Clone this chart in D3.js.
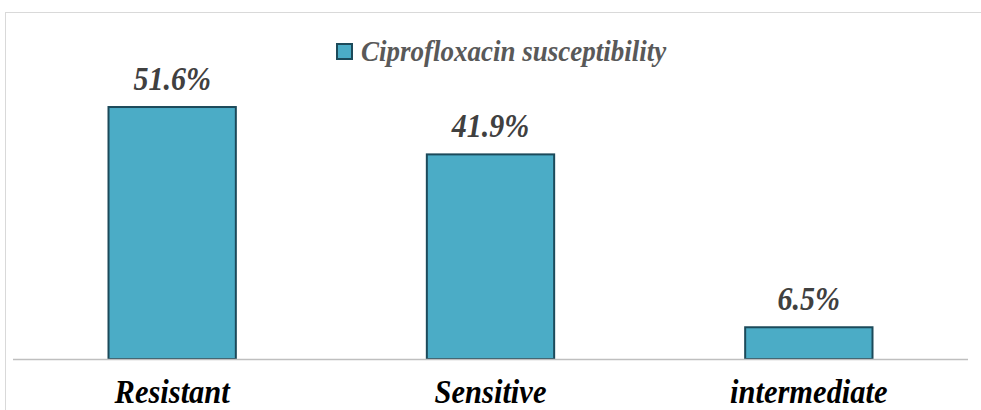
<!DOCTYPE html>
<html>
<head>
<meta charset="utf-8">
<script src="https://cdn.jsdelivr.net/npm/d3@7"></script>
<style>
  body { margin: 0; background: #fff; }
  text { font-family: "Liberation Serif", "Times New Roman", Times, serif; font-weight: bold; font-style: italic; }
</style>
</head>
<body>
<div id="chart"></div>
<script>
(function () {
    // data
    var categories = ["Resistant", "Sensitive", "intermediate"];
    var values = [51.6, 41.9, 6.5];
    var seriesName = "Ciprofloxacin susceptibility";

    var width = 981, height = 410;

    const svg = d3.select('#chart')
        .append('svg')
        .attr('width', width)
        .attr('height', height);

    // chart area frame (runs off right and bottom)
    svg.append("rect")
        .attr("x", 5.5).attr("y", 12.5)
        .attr("width", 1000).attr("height", 500)
        .attr("fill", "none")
        .attr("stroke", "#d9d9d9");

    const x = d3.scaleBand()
        .domain(categories)
        .range([13, 968])
        .paddingInner(0.6)
        .paddingOuter(0.3);

    const y = d3.scaleLinear()
        .domain([0, 60])
        .range([359, 66]);

    svg.append("g")
        .selectAll("rect")
        .data(values)
        .join("rect")
        .attr("x", (d, i) => x(categories[i]))
        .attr("y", d => y(d))
        .attr("width", x.bandwidth())
        .attr("height", d => y(0) - y(d))
        .attr("fill", "#4bacc6")
        .attr("stroke", "#1c4a5a")
        .attr("stroke-width", 2);

    // baseline
    svg.append("line")
        .attr("x1", 13).attr("x2", 968)
        .attr("y1", y(0) + 0.5).attr("y2", y(0) + 0.5)
        .attr("stroke", "#bfbfbf")
        .attr("stroke-width", 1.5);

    // value labels (slightly tall, like the original)
    svg.append("g")
        .selectAll("text")
        .data(values)
        .join("text")
        .attr("transform", (d, i) => `translate(${x(categories[i]) + x.bandwidth() / 2},${y(d) - 17}) scale(1,1.1)`)
        .attr("text-anchor", "middle")
        .attr("font-size", 30)
        .attr("fill", "#404040")
        .text(d => d.toFixed(1) + "%");

    // category labels
    svg.append("g")
        .selectAll("text")
        .data(categories)
        .join("text")
        .attr("transform", d => `translate(${x(d) + x.bandwidth() / 2},403) scale(1,1.12)`)
        .attr("text-anchor", "middle")
        .attr("font-size", 30.5)
        .attr("fill", "#000")
        .text(d => d);

    // legend
    const legend = svg.append("g").attr("transform", "translate(337,44)");
    legend.append("rect")
        .attr("x", 0).attr("y", 0)
        .attr("width", 15).attr("height", 15)
        .attr("fill", "#4bacc6")
        .attr("stroke", "#1c4a5a")
        .attr("stroke-width", 2);
    legend.append("text")
        .attr("transform", "translate(24,17) scale(1,1.1)")
        .attr("font-size", 27)
        .attr("fill", "#595959")
        .text(seriesName);
}());
</script>
</body>
</html>
